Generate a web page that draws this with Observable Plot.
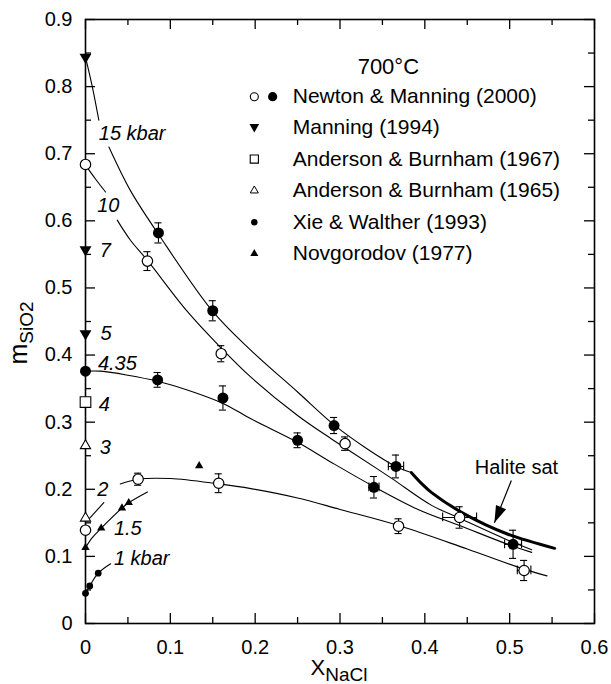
<!DOCTYPE html>
<html><head><meta charset="utf-8">
<script src="https://cdn.jsdelivr.net/npm/d3@7"></script>
<script src="https://cdn.jsdelivr.net/npm/@observablehq/plot@0.6"></script>
<style>body{margin:0;background:#fff;} svg{display:block}</style>
</head><body><div id="chart"></div>
<script>
// ---------- data ----------
const xTicks = [0, 0.1, 0.2, 0.3, 0.4, 0.5, 0.6];
const xMinor = [0.05, 0.15, 0.25, 0.35, 0.45, 0.55];
const yTicks = [0, 0.1, 0.2, 0.3, 0.4, 0.5, 0.6, 0.7, 0.8, 0.9];
const yMinor = [0.05, 0.15, 0.25, 0.35, 0.45, 0.55, 0.65, 0.75, 0.85];

// Newton & Manning (2000): open and filled circles, with errors (ey, ex)
const newtonOpen = [
  {x: 0, y: 0.684, ey: 0, ex: 0},
  {x: 0, y: 0.139, ey: 0, ex: 0},
  {x: 0.062, y: 0.215, ey: 0.009, ex: 0},
  {x: 0.157, y: 0.209, ey: 0.014, ex: 0},
  {x: 0.073, y: 0.540, ey: 0.014, ex: 0},
  {x: 0.160, y: 0.402, ey: 0.012, ex: 0},
  {x: 0.306, y: 0.268, ey: 0.010, ex: 0},
  {x: 0.369, y: 0.145, ey: 0.011, ex: 0},
  {x: 0.441, y: 0.158, ey: 0.016, ex: 0.020},
  {x: 0.517, y: 0.079, ey: 0.015, ex: 0.008}
];
const newtonFilled = [
  {x: 0, y: 0.376, ey: 0, ex: 0},
  {x: 0.086, y: 0.582, ey: 0.015, ex: 0},
  {x: 0.150, y: 0.466, ey: 0.015, ex: 0},
  {x: 0.085, y: 0.363, ey: 0.011, ex: 0},
  {x: 0.162, y: 0.336, ey: 0.018, ex: 0},
  {x: 0.250, y: 0.273, ey: 0.011, ex: 0},
  {x: 0.293, y: 0.295, ey: 0.012, ex: 0},
  {x: 0.366, y: 0.234, ey: 0.017, ex: 0.009},
  {x: 0.340, y: 0.203, ey: 0.016, ex: 0.006},
  {x: 0.504, y: 0.118, ey: 0.021, ex: 0.010}
];
const manning1994 = [{x: 0, y: 0.844}, {x: 0, y: 0.557}, {x: 0, y: 0.432}];
const anderson1967 = [{x: 0, y: 0.330}];
const anderson1965 = [{x: 0, y: 0.265}, {x: 0, y: 0.157}];
const xieWalther = [{x: 0, y: 0.045}, {x: 0.005, y: 0.056}, {x: 0.015, y: 0.075}];
const novgorodov = [{x: 0, y: 0.113}, {x: 0.0185, y: 0.142}, {x: 0.043, y: 0.172}, {x: 0.051, y: 0.180}, {x: 0.134, y: 0.235}];

// isobars (segments broken by labels)
const curve15a = [[0, 0.844], [0.008, 0.800], [0.0157, 0.750]];
const curve15b = [[0.0276, 0.710], [0.053, 0.645], [0.086, 0.580], [0.15, 0.465], [0.195, 0.407], [0.25, 0.345], [0.293, 0.296], [0.33, 0.262], [0.366, 0.234], [0.384, 0.225]];
const curve10a = [[0, 0.683], [0.012, 0.662], [0.0236, 0.643]];
const curve10b = [[0.0374, 0.601], [0.053, 0.571], [0.073, 0.541], [0.12, 0.465], [0.158, 0.413], [0.195, 0.367], [0.25, 0.31], [0.29, 0.275], [0.313, 0.256], [0.36, 0.217], [0.408, 0.176], [0.441, 0.157], [0.504, 0.121], [0.526, 0.110]];
const curve435 = [[0, 0.376], [0.018, 0.376], [0.05, 0.370], [0.085, 0.361], [0.12, 0.348], [0.162, 0.328], [0.195, 0.305], [0.25, 0.270], [0.29, 0.240], [0.34, 0.204], [0.392, 0.170], [0.441, 0.146], [0.504, 0.115], [0.526, 0.106]];
const curve2 = [[0.041, 0.208], [0.062, 0.215], [0.1, 0.216], [0.157, 0.208], [0.195, 0.201], [0.25, 0.187], [0.30, 0.170], [0.369, 0.146], [0.45, 0.111], [0.517, 0.081], [0.544, 0.071]];
const curve15kb = [[0, 0.113], [0.008, 0.128], [0.0185, 0.142], [0.043, 0.172], [0.051, 0.180], [0.073, 0.196]];
const curve1 = [[0, 0.045], [0.005, 0.056], [0.015, 0.075], [0.0296, 0.089]];
const leader2 = [[0.0216, 0.180], [0.002, 0.153]];
const haliteSat = [[0.384, 0.225], [0.395, 0.210], [0.408, 0.195], [0.447, 0.163], [0.498, 0.133], [0.553, 0.112]];

const pressureLabels = [
  {text: "15 kbar", x: 0.0157, y: 0.730},
  {text: "10", x: 0.0138, y: 0.623},
  {text: "7", x: 0.0169, y: 0.556},
  {text: "5", x: 0.0177, y: 0.432},
  {text: "4.35", x: 0.0146, y: 0.387},
  {text: "4", x: 0.0157, y: 0.326},
  {text: "3", x: 0.0169, y: 0.262},
  {text: "2", x: 0.0138, y: 0.200},
  {text: "1.5", x: 0.0335, y: 0.142},
  {text: "1 kbar", x: 0.0335, y: 0.096}
];
const legendTitle = "700°C";
const legendLabels = ["Newton & Manning (2000)", "Manning (1994)", "Anderson & Burnham (1967)", "Anderson & Burnham (1965)", "Xie & Walther (1993)", "Novgorodov (1977)"];
const haliteLabel = "Halite sat";

// ---------- layout ----------
const W = 611, H = 684, ML = 85, MR = 17, MT = 19, MB = 61;
const FW = W - ML - MR, FH = H - MT - MB;
const FONT = "'Liberation Sans', Arial, Helvetica, sans-serif";
const legendRowY = [0.785, 0.740, 0.692, 0.645, 0.598, 0.551];
const legendMarkX = 0.199, legendMarkX2 = 0.2206, legendTextX = 0.2443;
const legendRows = legendLabels.map((t, i) => ({text: t, y: legendRowY[i]}));

const P = d => d[0], Q = d => d[1];
const lineOpts = {x: P, y: Q, curve: "catmull-rom", stroke: "black", strokeWidth: 1.1};

function errorMarks(data) {
  const v = data.filter(d => d.ey > 0), h = data.filter(d => d.ex > 0);
  return [
    Plot.ruleX(v, {x: "x", y1: d => d.y - d.ey, y2: d => d.y + d.ey, stroke: "black", strokeWidth: 1.1}),
    Plot.ruleY(v, {y: d => d.y + d.ey, x1: d => d.x - 0.0042, x2: d => d.x + 0.0042, stroke: "black", strokeWidth: 1.1}),
    Plot.ruleY(v, {y: d => d.y - d.ey, x1: d => d.x - 0.0042, x2: d => d.x + 0.0042, stroke: "black", strokeWidth: 1.1}),
    Plot.ruleY(h, {y: "y", x1: d => d.x - d.ex, x2: d => d.x + d.ex, stroke: "black", strokeWidth: 1.1}),
    Plot.ruleX(h, {x: d => d.x - d.ex, y1: d => d.y - 0.0065, y2: d => d.y + 0.0065, stroke: "black", strokeWidth: 1.1}),
    Plot.ruleX(h, {x: d => d.x + d.ex, y1: d => d.y - 0.0065, y2: d => d.y + 0.0065, stroke: "black", strokeWidth: 1.1})
  ];
}

// arrowhead symbol: tip at origin, pointing up
const arrowHead = {draw(ctx) { ctx.moveTo(0, 0); ctx.lineTo(-5.5, 17); ctx.lineTo(5.5, 17); ctx.closePath(); }};
const arrowTail = {x: 0.502, y: 0.213}, arrowTip = {x: 0.482, y: 0.150};

const fmt = d => d === 0 ? "0" : d.toFixed(1);

const chart = Plot.plot({
  width: W, height: H,
  marginLeft: ML, marginRight: MR, marginTop: MT, marginBottom: MB,
  x: {domain: [0, 0.6]},
  y: {domain: [0, 0.9]},
  style: {fontFamily: FONT, fontSize: "20px", background: "white", color: "black"},
  marks: [
    // ticks (inward)
    Plot.tickY(yTicks, {y: d => d, insetRight: FW - 10, stroke: "black", strokeWidth: 1.3}),
    Plot.tickY(yMinor, {y: d => d, insetRight: FW - 6, stroke: "black", strokeWidth: 1.3}),
    Plot.tickY(yTicks, {y: d => d, insetLeft: FW - 10, stroke: "black", strokeWidth: 1.3}),
    Plot.tickY(yMinor, {y: d => d, insetLeft: FW - 6, stroke: "black", strokeWidth: 1.3}),
    Plot.tickX(xTicks, {x: d => d, insetTop: FH - 10, stroke: "black", strokeWidth: 1.3}),
    Plot.tickX(xMinor, {x: d => d, insetTop: FH - 6, stroke: "black", strokeWidth: 1.3}),
    Plot.tickX(xTicks, {x: d => d, insetBottom: FH - 10, stroke: "black", strokeWidth: 1.3}),
    Plot.tickX(xMinor, {x: d => d, insetBottom: FH - 6, stroke: "black", strokeWidth: 1.3}),
    Plot.axisX({ticks: xTicks, tickSize: 0, tickPadding: 16, tickFormat: fmt, label: null, fontSize: 20}),
    Plot.axisY({ticks: yTicks, tickSize: 0, tickPadding: 13, tickFormat: fmt, label: null, fontSize: 20}),
    // curves
    Plot.line(curve15a, lineOpts),
    Plot.line(curve15b, lineOpts),
    Plot.line(curve10a, lineOpts),
    Plot.line(curve10b, lineOpts),
    Plot.line(curve435, lineOpts),
    Plot.line(curve2, lineOpts),
    Plot.line(curve15kb, lineOpts),
    Plot.line(curve1, lineOpts),
    Plot.line(leader2, {x: P, y: Q, stroke: "black", strokeWidth: 1.1}),
    Plot.line(haliteSat, {x: P, y: Q, curve: "catmull-rom", stroke: "black", strokeWidth: 3}),
    // halite arrow + label
    Plot.link([0], {x1: () => arrowTail.x, y1: () => arrowTail.y, x2: () => arrowTip.x, y2: () => arrowTip.y, stroke: "black", strokeWidth: 1.2}),
    Plot.dot([arrowTip], {x: "x", y: "y", symbol: arrowHead, rotate: 203, fill: "black", r: 5}),
    Plot.text([haliteLabel], {x: () => 0.508, y: () => 0.2326, text: d => d, fontSize: 20, textAnchor: "middle"}),
    // error bars
    ...errorMarks(newtonOpen),
    ...errorMarks(newtonFilled),
    // frame
    Plot.frame({stroke: "black", strokeWidth: 1.6}),
    // data points
    Plot.dot(newtonOpen, {x: "x", y: "y", r: 5.2, fill: "white", stroke: "black", strokeWidth: 1.2}),
    Plot.dot(newtonFilled, {x: "x", y: "y", r: 5.5, fill: "black"}),
    Plot.dot(manning1994, {x: "x", y: "y", symbol: "triangle", rotate: 180, r: 4.4, fill: "black"}),
    Plot.dot(anderson1967, {x: "x", y: "y", symbol: "square", r: 6, fill: "white", stroke: "black", strokeWidth: 1.1}),
    Plot.dot(anderson1965, {x: "x", y: "y", symbol: "triangle", r: 3.8, fill: "white", stroke: "black", strokeWidth: 1.1}),
    Plot.dot(xieWalther, {x: "x", y: "y", r: 3.4, fill: "black"}),
    Plot.dot(novgorodov, {x: "x", y: "y", symbol: "triangle", r: 3.1, fill: "black"}),
    // pressure labels
    Plot.text(pressureLabels, {x: "x", y: "y", text: "text", fontSize: 20, fontStyle: "italic", textAnchor: "start"}),
    // legend
    Plot.text([legendTitle], {x: () => 0.357, y: () => 0.829, text: d => d, fontSize: 22, textAnchor: "middle"}),
    Plot.text(legendRows, {x: () => legendTextX, y: "y", text: "text", fontSize: 21, textAnchor: "start"}),
    Plot.dot([legendRows[0]], {x: () => legendMarkX, y: "y", r: 4, fill: "white", stroke: "black", strokeWidth: 1.1}),
    Plot.dot([legendRows[0]], {x: () => legendMarkX2, y: "y", r: 4.6, fill: "black"}),
    Plot.dot([legendRows[1]], {x: () => legendMarkX, y: "y", symbol: "triangle", rotate: 180, r: 3.6, fill: "black"}),
    Plot.dot([legendRows[2]], {x: () => legendMarkX, y: "y", symbol: "square", r: 4.6, fill: "white", stroke: "black", strokeWidth: 1.1}),
    Plot.dot([legendRows[3]], {x: () => legendMarkX, y: "y", symbol: "triangle", r: 3, fill: "white", stroke: "black", strokeWidth: 1}),
    Plot.dot([legendRows[4]], {x: () => legendMarkX, y: "y", r: 3.2, fill: "black"}),
    Plot.dot([legendRows[5]], {x: () => legendMarkX, y: "y", symbol: "triangle", r: 3, fill: "black"})
  ]
});

// axis titles with subscripts
const svg = d3.select(chart);
const xl = svg.append("text").attr("x", 339).attr("y", 675).attr("text-anchor", "middle")
  .attr("font-family", FONT).attr("fill", "black");
xl.append("tspan").attr("font-size", 22).text("X");
xl.append("tspan").attr("font-size", 19).attr("dy", 6).text("NaCl");
const yl = svg.append("text").attr("transform", "translate(27,333) rotate(-90)").attr("text-anchor", "middle")
  .attr("font-family", FONT).attr("fill", "black");
yl.append("tspan").attr("font-size", 25).text("m");
yl.append("tspan").attr("font-size", 19).attr("dy", 6).text("SiO2");

document.getElementById("chart").appendChild(chart);
</script>
</body></html>
